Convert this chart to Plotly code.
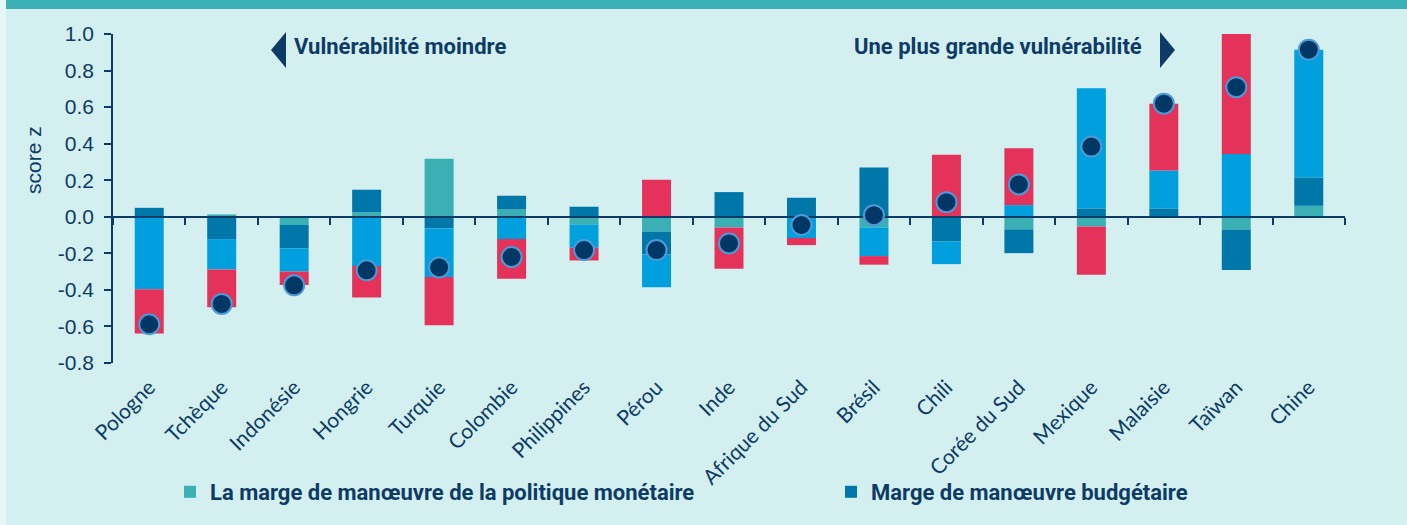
import plotly.graph_objects as go

# ---------------- data ----------------
countries = ["Pologne", "Tchèque", "Indonésie", "Hongrie", "Turquie", "Colombie",
             "Philippines", "Pérou", "Inde", "Afrique du Sud", "Brésil", "Chili",
             "Corée du Sud", "Mexique", "Malaisie", "Taïwan", "Chine"]

monetaire = [0.0, 0.013, -0.045, 0.026, 0.317, 0.040, -0.044, -0.082, -0.058, 0.0,
             -0.058, 0.0, -0.069, -0.053, 0.0, -0.069, 0.060]
budgetaire = [0.049, -0.122, -0.128, 0.122, -0.064, 0.075, 0.055, -0.124, 0.135, 0.104,
              0.270, -0.135, -0.130, 0.046, 0.046, -0.222, 0.155]
bleu_clair = [-0.397, -0.166, -0.127, -0.269, -0.266, -0.122, -0.125, -0.180, 0.0, -0.116,
              -0.157, -0.124, 0.064, 0.657, 0.207, 0.344, 0.699]
rouge = [-0.242, -0.207, -0.073, -0.173, -0.264, -0.217, -0.070, 0.202, -0.226, -0.039,
         -0.047, 0.339, 0.311, -0.264, 0.366, 0.656, 0.0]
total = [-0.588, -0.477, -0.375, -0.293, -0.277, -0.220, -0.182, -0.182, -0.146, -0.045,
         0.009, 0.080, 0.177, 0.384, 0.619, 0.709, 0.914]

y_tickvals = [-0.8, -0.6, -0.4, -0.2, 0.0, 0.2, 0.4, 0.6, 0.8, 1.0]
y_ticktext = ["-0.8", "-0.6", "-0.4", "-0.2", "0.0", "0.2", "0.4", "0.6", "0.8", "1.0"]

legend_names = ["La marge de manœuvre de la politique monétaire",
                "Marge de manœuvre budgétaire"]

# ---------------- style ----------------
BG = "#d3efef"
NAVY = "#0d3b66"
C_TEAL = "#3aafb4"
C_DARK = "#0077a9"
C_BLUE = "#00a0df"
C_RED = "#e5325b"

W, H = 1407, 525
PL, PT, PW, PH = 113, 34, 1232, 329
YMIN, YMAX = -0.8, 1.0


def px_x(px):
    return (px - PL) / PW


def px_y(py):
    return (PT + PH - py) / PH


fig = go.Figure()

series = [
    (monetaire, C_TEAL, legend_names[0], True, "legend"),
    (budgetaire, C_DARK, legend_names[1], True, "legend2"),
    (bleu_clair, C_BLUE, "bleu", False, "legend"),
    (rouge, C_RED, "rouge", False, "legend"),
]
for vals, col, name, show, leg in series:
    fig.add_trace(go.Bar(
        x=countries, y=vals, name=name, showlegend=show, legend=leg,
        marker=dict(color=col, line=dict(width=0)),
        width=0.4, xaxis="x", yaxis="y",
    ))

fig.add_trace(go.Scatter(
    x=countries, y=total, mode="markers", showlegend=False,
    marker=dict(size=20, color="#003865", line=dict(color="#4d9ad6", width=2)),
    xaxis="x2", yaxis="y2",
))

zero_pos = (0 - YMIN) / (YMAX - YMIN)
leg_font = dict(family="Roboto", size=22, color=NAVY, weight="bold")

fig.update_layout(
    width=W, height=H,
    margin=dict(l=PL, r=W - PL - PW, t=PT, b=H - PT - PH, autoexpand=False),
    paper_bgcolor=BG, plot_bgcolor="rgba(0,0,0,0)",
    barmode="relative",
    showlegend=True,
    xaxis=dict(
        type="category", categoryorder="array", categoryarray=countries,
        range=[-0.5, len(countries) - 0.5],
        anchor="free", position=zero_pos,
        showline=True, linecolor=NAVY, linewidth=2,
        ticks="outside", ticklen=7, tickwidth=2, tickcolor=NAVY,
        tickson="boundaries", showticklabels=False, showgrid=False, zeroline=False,
        automargin=False,
    ),
    yaxis=dict(
        range=[YMIN, YMAX], tickvals=y_tickvals, ticktext=y_ticktext,
        showline=True, linecolor=NAVY, linewidth=1.5,
        ticks="outside", ticklen=7, tickwidth=1.5, tickcolor=NAVY,
        ticklabelstandoff=6,
        tickfont=dict(family="Liberation Sans", size=21, color=NAVY),
        showgrid=False, zeroline=False, automargin=False,
    ),
    xaxis2=dict(
        type="category", categoryorder="array", categoryarray=countries,
        range=[-0.5, len(countries) - 0.5], anchor="y2",
        showline=False, ticks="", showgrid=False, zeroline=False,
        tickangle=-45, ticklabelstandoff=7, automargin=False,
        tickfont=dict(family="Lato", size=21, color=NAVY),
    ),
    yaxis2=dict(range=[YMIN, YMAX], anchor="x2", visible=False),
    legend=dict(
        orientation="h", x=px_x(170), y=px_y(471), xanchor="left", yanchor="top",
        traceorder="normal", font=leg_font, bgcolor="rgba(0,0,0,0)",
    ),
    legend2=dict(
        orientation="h", x=px_x(831), y=px_y(471), xanchor="left", yanchor="top",
        traceorder="normal", font=leg_font, bgcolor="rgba(0,0,0,0)",
    ),
)

# annotations
ann_font = dict(family="Roboto", size=22, color=NAVY, weight="bold")
fig.add_annotation(text="Vulnérabilité moindre", xref="paper", yref="paper",
                   x=px_x(292), y=px_y(46), xanchor="left", yanchor="middle",
                   showarrow=False, font=ann_font)
fig.add_annotation(text="Une plus grande vulnérabilité", xref="paper", yref="paper",
                   x=px_x(1144), y=px_y(46), xanchor="right", yanchor="middle",
                   showarrow=False, font=ann_font)
fig.add_annotation(text="score z", xref="paper", yref="paper",
                   x=px_x(33), y=px_y(160), xanchor="center", yanchor="middle",
                   textangle=-90, showarrow=False,
                   font=dict(family="Liberation Sans", size=21, color=NAVY))


def tri(points):
    s = "M " + " L ".join(f"{px_x(a):.5f},{px_y(b):.5f}" for a, b in points) + " Z"
    return s


fig.add_shape(type="path", xref="paper", yref="paper",
              path=tri([(286, 32), (286, 68), (271, 50)]),
              fillcolor=NAVY, line=dict(width=0))
fig.add_shape(type="path", xref="paper", yref="paper",
              path=tri([(1160, 32), (1160, 68), (1175, 50)]),
              fillcolor=NAVY, line=dict(width=0))
# top band
fig.add_shape(type="rect", xref="paper", yref="paper",
              x0=px_x(6), x1=px_x(W), y0=px_y(9), y1=px_y(0),
              fillcolor="#3ab0b6", line=dict(width=0))
# left light strip
fig.add_shape(type="rect", xref="paper", yref="paper",
              x0=px_x(0), x1=px_x(6), y0=px_y(H), y1=px_y(0),
              fillcolor="#e6f6f6", line=dict(width=0))

fig.write_html("out.html",
               config={"displayModeBar": False},
               post_script="document.body.style.margin='0';document.body.style.overflow='hidden';")
